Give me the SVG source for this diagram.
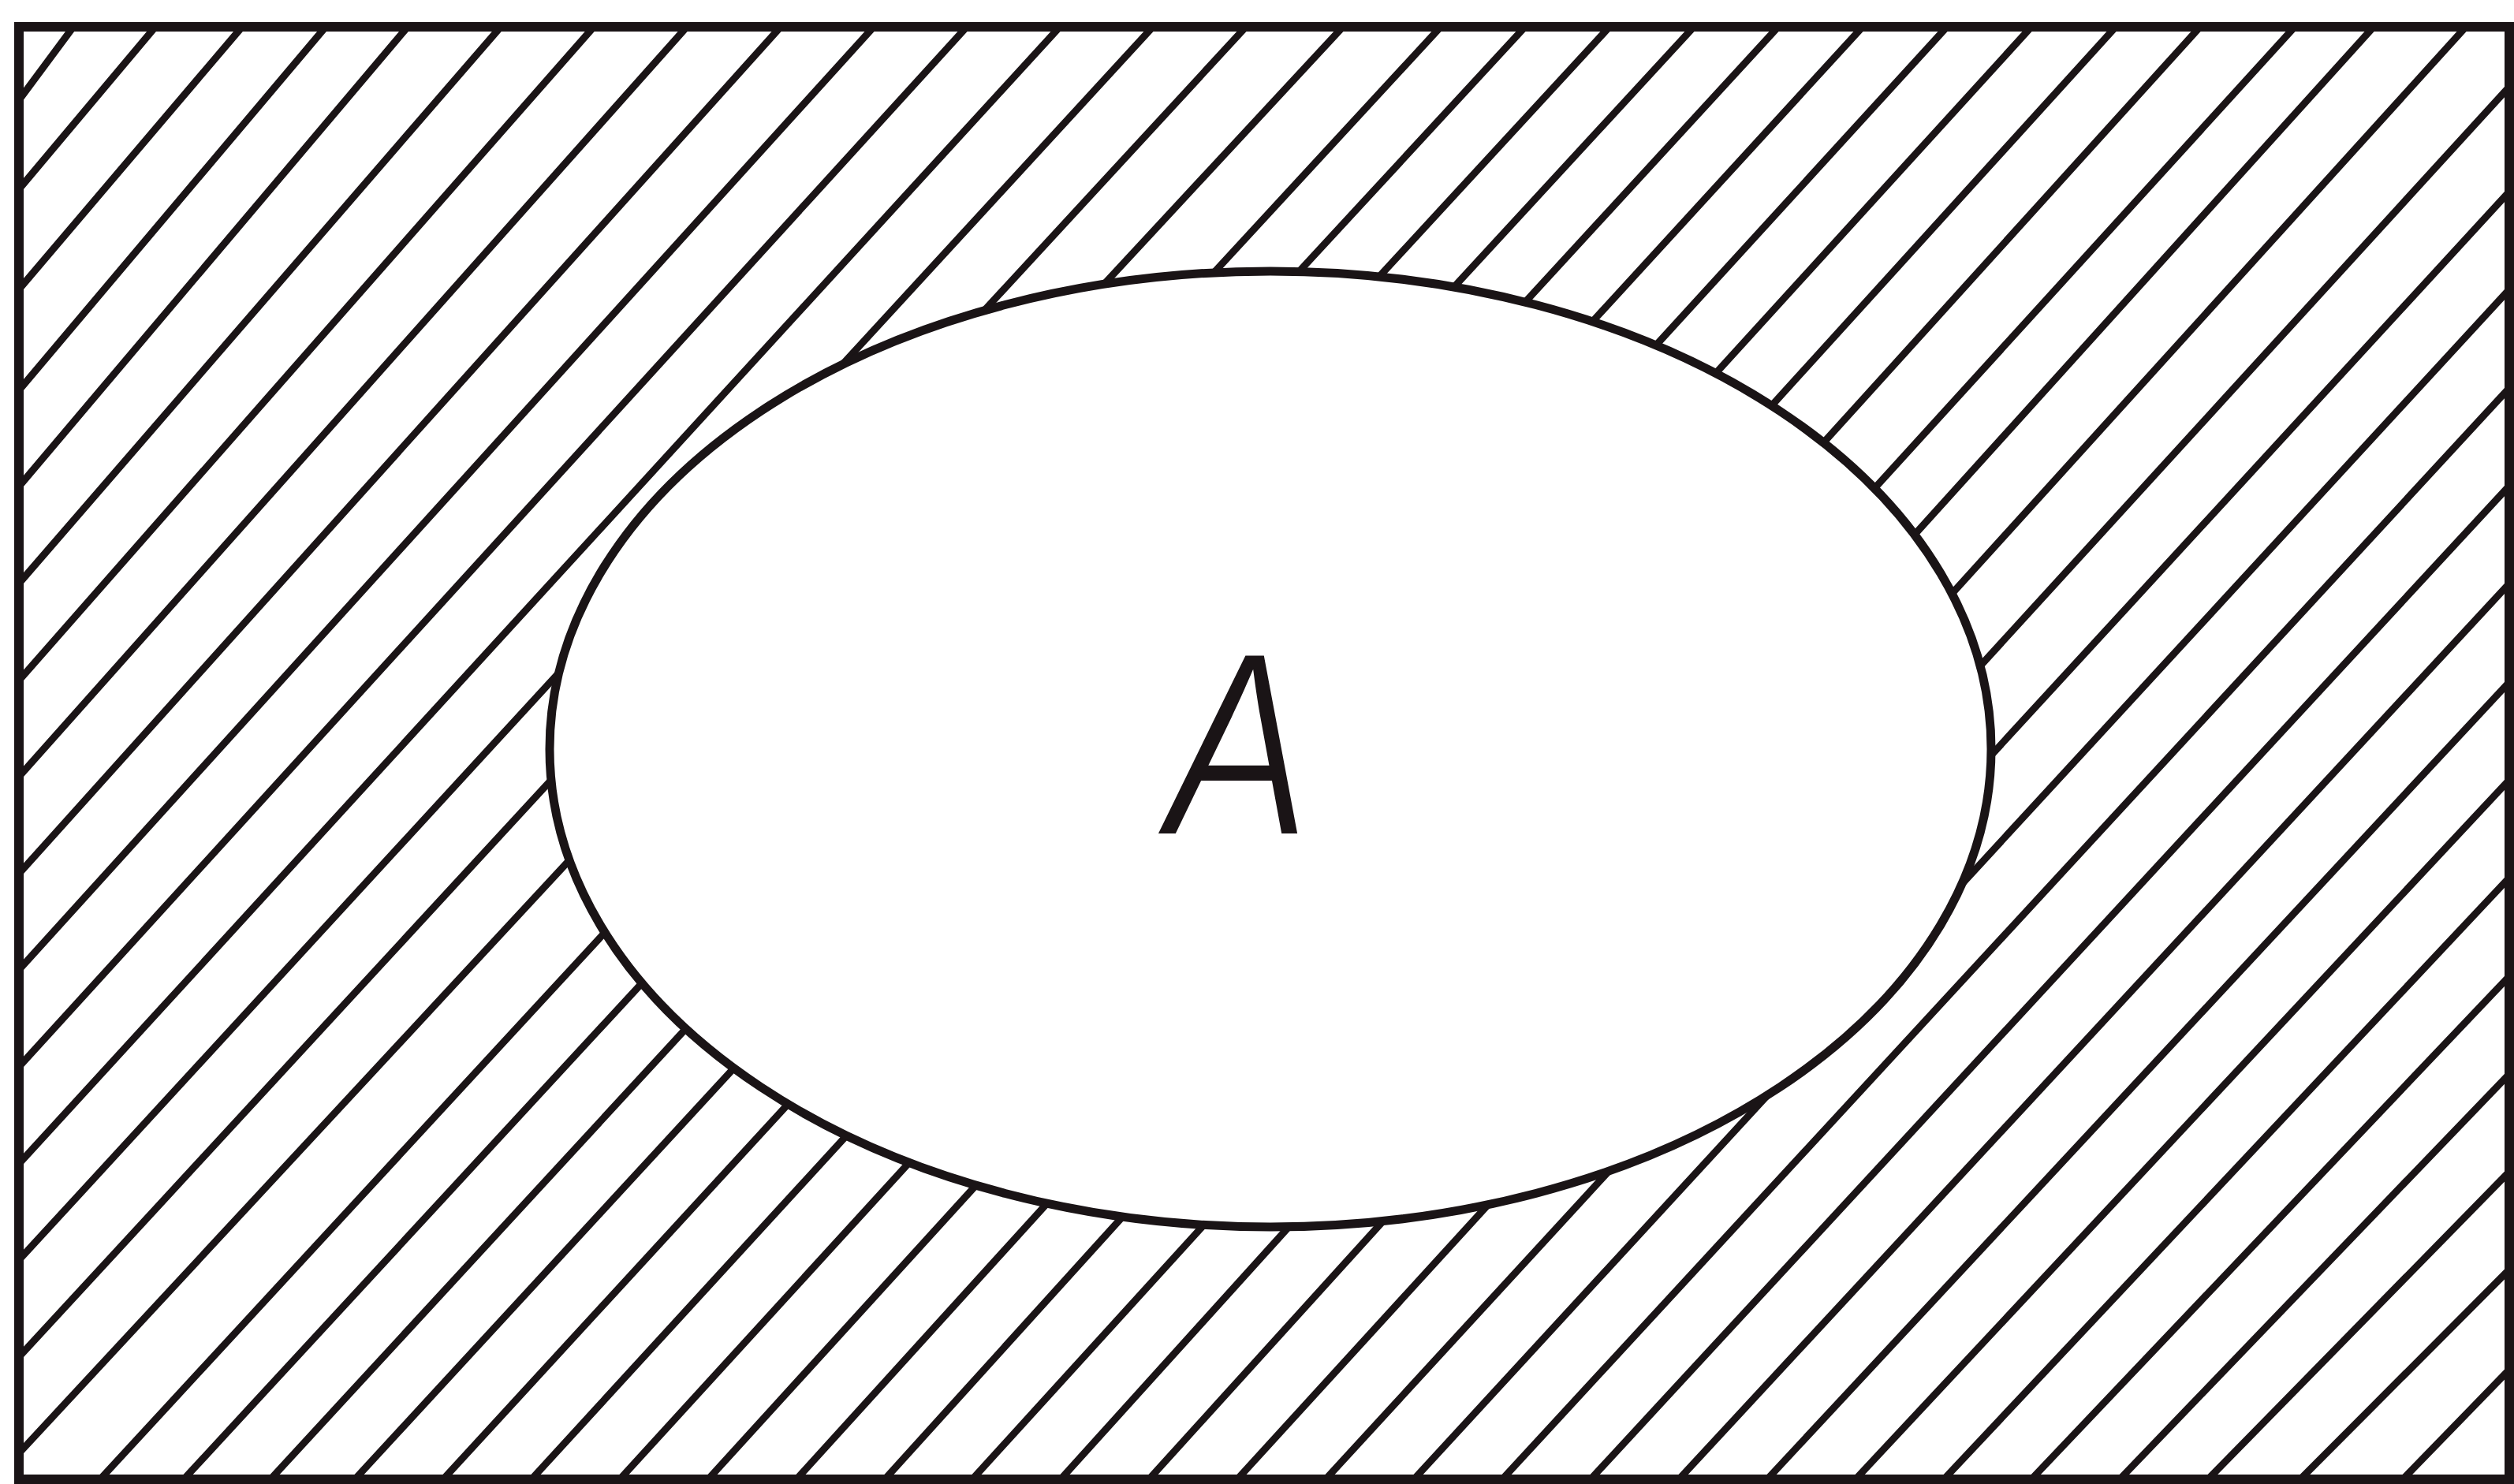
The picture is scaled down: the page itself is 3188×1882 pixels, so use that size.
<svg xmlns="http://www.w3.org/2000/svg" width="3188" height="1882" viewBox="0 0 3188 1882">
  <style>
    .hatch { fill: none; stroke: #1a1416; stroke-width: 9; stroke-linecap: butt; }
    .border { fill: none; stroke: #1a1416; stroke-width: 12; }
    .set { fill: #ffffff; stroke: #1a1416; stroke-width: 11; }
    .label { font-family: Inter, "Noto Sans", "DejaVu Sans", sans-serif; font-style: italic; font-weight: 300; font-size: 310px; fill: #1a1416; }
  </style>
  <defs>
    <clipPath id="inside">
      <rect x="24" y="34" width="3158" height="1842"/>
    </clipPath>
  </defs>
  <rect x="0" y="0" width="3188" height="1882" fill="#ffffff"/>
  <g id="complement-hatching" clip-path="url(#inside)">
    <path class="hatch" d="
      M93,34 L24,127 M197,34 L24,240 M307,34 L24,367 M413,34 L24,495 M517,34 L24,617
      M635,34 L24,740 M753,34 L24,863 M871,34 L24,985 M990,34 L24,1108 M1108,34 L24,1230
      M1226,34 L24,1353 M1344,34 L24,1476 M1462,34 L24,1598 M1580,34 L24,1721 M1703,34 L24,1843
      M1827,34 L127,1876 M1934,34 L233,1876 M2041,34 L343,1876 M2148,34 L450,1876 M2255,34 L562,1876
      M2362,34 L674,1876 M2469,34 L786,1876 M2576,34 L898,1876 M2683,34 L1010,1876 M2790,34 L1122,1876
      M2910,34 L1233,1876 M3010,34 L1345,1876 M3127,34 L1457,1876
      M3182,110 L1569,1876 M3182,243 L1681,1876 M3182,367 L1793,1876 M3182,492 L1905,1876
      M3182,616 L2017,1876 M3182,740 L2129,1876 M3182,865 L2241,1876 M3182,989 L2353,1876
      M3182,1113 L2465,1876 M3182,1238 L2576,1876 M3182,1362 L2688,1876 M3182,1486 L2800,1876
      M3182,1610 L2917,1876 M3182,1737 L3047,1876"/>
  </g>
  <g id="universe">
    <rect class="border" x="24" y="34" width="3158" height="1842"/>
  </g>
  <g id="set-A">
    <ellipse class="set" cx="1611" cy="950" rx="914" ry="606"/>
    <text class="label" x="1570" y="1057" text-anchor="middle" transform="translate(1570 0) scale(0.92 1) translate(-1570 0)">A</text>
  </g>
  <g id="connectors"></g>
</svg>
